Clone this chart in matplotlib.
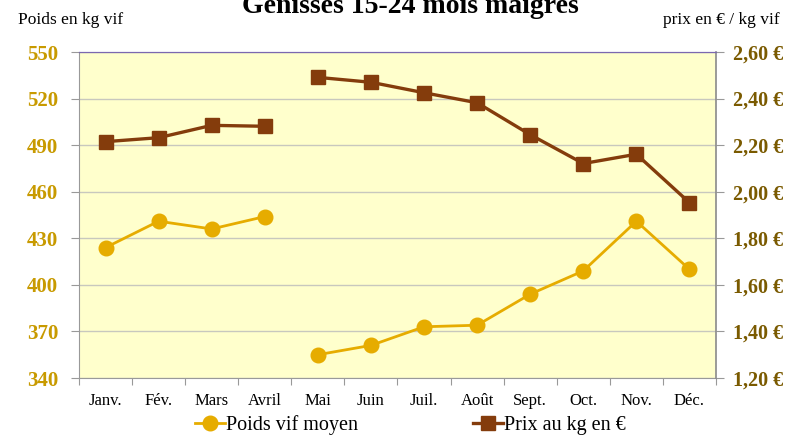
import matplotlib
matplotlib.use("Agg")
import matplotlib.pyplot as plt
from matplotlib.lines import Line2D
import numpy as np

months = ["Janv.", "Fév.", "Mars", "Avril", "Mai", "Juin", "Juil.", "Août",
          "Sept.", "Oct.", "Nov.", "Déc."]
poids = [424, 441, 436, 444, 355, 361, 373, 374, 394, 409, 441, 410]
prix = [2.215, 2.232, 2.285, 2.281, 2.491, 2.470, 2.425, 2.382, 2.245, 2.121, 2.161, 1.953]
segments = [(0, 4), (4, 12)]  # series break between Avril and Mai

left_ticks = [340, 370, 400, 430, 460, 490, 520, 550]
right_ticks = [1.20, 1.40, 1.60, 1.80, 2.00, 2.20, 2.40, 2.60]

title = "Génisses 15-24 mois maigres"
left_label = "Poids en kg vif"
right_label = "prix en € / kg vif"
label_poids = "Poids vif moyen"
label_prix = "Prix au kg en €"

plt.rcParams['font.family'] = ['Liberation Serif', 'DejaVu Serif']

gold = "#E6AC00"
brown = "#843C0C"
left_col = "#C89A00"
right_col = "#7A5A00"

fig = plt.figure(figsize=(7.87, 4.37), dpi=100)
ax = fig.add_axes([79/787, 1-378/437, (716-79)/787, (378-52)/437])
ax.set_facecolor("#FFFFCC")
ax2 = ax.twinx()

x = np.arange(len(months))
for a, b in segments:
    ax.plot(x[a:b], poids[a:b], color=gold, lw=2.0, marker='o', ms=10.5, zorder=3)
    ax2.plot(x[a:b], prix[a:b], color=brown, lw=2.4, marker='s', ms=10, zorder=3)

ax.set_xlim(-0.5, len(months) - 0.5)
ax.set_ylim(340, 550)
ax2.set_ylim(1.20, 2.60)
ax.set_yticks(left_ticks)
ax2.set_yticks(right_ticks)
ax.set_yticklabels([str(v) for v in left_ticks], color=left_col, fontweight='bold', fontsize=15)
ax2.set_yticklabels([("%.2f €" % v).replace('.', ',') for v in right_ticks],
                    color=right_col, fontweight='bold', fontsize=14.5)
ax.yaxis.grid(True, color="#C8C8BE", lw=1.0)
ax.set_axisbelow(True)

ax.set_xticks(np.arange(-0.5, len(months) + 0.5, 1))
ax.set_xticklabels([])
ax.set_xticks(x, minor=True)
ax.set_xticklabels(months, minor=True, fontsize=12)
ax.tick_params(axis='x', which='minor', length=0, pad=11)
ax.tick_params(axis='x', which='major', length=5, color="#999999", direction='out')
ax.tick_params(axis='y', length=6, color="#999999", pad=9)
ax2.tick_params(axis='y', length=6, color="#999999", pad=6)

for s in ['left', 'bottom']:
    ax.spines[s].set_color("#999999")
ax2.spines['left'].set_visible(False)
ax2.spines['bottom'].set_visible(False)
ax2.spines['right'].set_color("#8A8A8A")
ax2.spines['right'].set_linewidth(1.2)
ax2.spines['top'].set_color("#7B68B0")
ax.spines['top'].set_color("#7B68B0")
ax.spines['right'].set_visible(False)

fig.text(410/787, 1 - 13/437, title, ha='center', va='baseline',
         fontsize=20, fontweight='bold')
fig.text(18/787, 1 - 24/437, left_label, ha='left', va='baseline', fontsize=12.5)
fig.text(780/787, 1 - 24/437, right_label, ha='right', va='baseline', fontsize=12.5)

handles = [Line2D([], [], color=gold, lw=2.0, marker='o', ms=10.5),
           Line2D([], [], color=brown, lw=2.4, marker='s', ms=10)]
fig.legend(handles, [label_poids, label_prix], loc='center', ncol=2,
           bbox_to_anchor=(410/787, 1 - 425/437), frameon=False, fontsize=14.5,
           handlelength=1.5, handletextpad=0.05, columnspacing=5.7)

fig.savefig("out.png", dpi=100)
